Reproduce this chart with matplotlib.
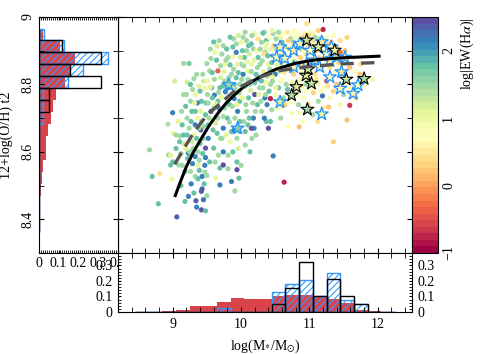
import numpy as np
import matplotlib
matplotlib.use('Agg')
import matplotlib.pyplot as plt
from matplotlib.ticker import MultipleLocator, FormatStrFormatter
from matplotlib.colors import Normalize

plt.rcParams['font.family'] = ['Liberation Serif', 'DejaVu Serif']
plt.rcParams['mathtext.fontset'] = 'stix'
plt.rcParams['font.size'] = 10
plt.rcParams['hatch.linewidth'] = 0.8

# --- scatter sample: [log M*, 12+log(O/H), log EW(Ha)] ---
low_mass = np.array([
    [8.66, 8.606, 1.45], [8.70, 8.527, 1.8], [8.79, 8.446, 1.8], [8.81, 8.535, 0.4],
    [8.94, 8.591, 1.45], [8.97, 8.590, 1.1], [8.99, 8.519, 1.0], [9.06, 8.407, 2.4],
    [9.00, 8.570, 1.8], [8.97, 8.561, 1.8], [9.09, 8.561, 1.45], [9.11, 8.647, 1.45],
    [9.01, 8.655, 1.0], [9.16, 8.624, 1.2], [9.23, 8.596, 2.15], [9.22, 8.580, 1.8],
    [9.18, 8.542, 1.8], [9.18, 8.453, 1.8], [9.23, 8.468, 2.15], [9.31, 8.478, 1.8],
    [9.35, 8.436, 2.2], [9.42, 8.483, 2.4], [9.42, 8.428, 2.45], [9.48, 8.425, 1.8],
    [9.45, 8.458, 2.3], [9.26, 8.542, 1.45], [9.33, 8.527, 1.5], [9.37, 8.520, 1.8],
    [9.43, 8.527, 2.2], [9.43, 8.490, 2.4], [9.00, 8.716, 2.2], [8.93, 8.682, 1.4],
    [9.16, 8.862, 1.5], [9.24, 8.862, 1.65], [9.21, 8.807, 1.15], [9.16, 8.770, 1.45],
    [9.31, 8.817, 1.5], [9.33, 8.770, 1.05], [9.26, 8.750, 1.45], [9.33, 8.720, 1.8],
    [9.42, 8.750, 1.8], [9.47, 8.788, 1.0], [9.48, 8.710, 1.8], [9.42, 8.690, 1.45],
    [9.37, 8.700, 1.0], [9.28, 8.720, 1.8], [9.21, 8.700, 1.45], [9.14, 8.680, 1.8],
    [9.24, 8.670, 1.45], [9.33, 8.680, 2.15], [9.31, 8.650, 1.0], [9.16, 8.650, 1.8],
    [9.37, 8.560, 1.1], [9.39, 8.575, 1.45], [9.29, 8.565, 2.15], [9.33, 8.586, 2.2],
    [9.37, 8.600, 1.45], [9.48, 8.611, 2.45], [9.48, 8.583, 2.2], [9.47, 8.560, 2.15],
    [9.45, 8.640, 1.45], [9.40, 8.625, 1.8], [9.28, 8.630, 1.2], [9.05, 8.610, 1.8],
    [9.12, 8.595, 1.45], [9.08, 8.690, 1.1], [9.19, 8.735, 1.8], [9.29, 8.785, 1.45],
    [9.38, 8.795, 1.1], [9.44, 8.830, 1.45], [9.41, 8.665, 2.4], [9.46, 8.505, 1.8],
    [9.03, 8.810, 1.2], [9.13, 8.720, 1.45], [9.36, 8.745, 2.15],
    [9.05, 8.650, 1.45], [9.10, 8.630, 1.8], [9.14, 8.560, 1.45], [9.19, 8.610, 1.1],
    [9.21, 8.650, 1.8], [9.25, 8.600, 1.45], [9.27, 8.690, 1.8], [9.30, 8.610, 1.45],
    [9.32, 8.745, 1.1], [9.35, 8.640, 1.8], [9.38, 8.670, 1.45], [9.41, 8.720, 1.1],
    [9.44, 8.595, 1.8], [9.46, 8.675, 1.45], [9.49, 8.745, 1.8], [9.20, 8.770, 1.45],
    [9.26, 8.800, 1.8], [9.35, 8.830, 1.45], [9.40, 8.780, 1.8], [9.45, 8.810, 1.2],
    [9.12, 8.500, 1.8], [9.27, 8.505, 2.15], [9.39, 8.545, 1.8], [9.34, 8.455, 2.4],
    [9.47, 8.540, 1.45],
])

mid_mass = np.array([
    [9.50, 8.530, 1.45], [9.50, 8.470, 1.45], [9.63, 8.522, 1.0], [9.69, 8.502, 2.15],
    [9.86, 8.512, 2.15], [9.91, 8.484, 1.45], [9.97, 8.522, 1.8], [10.00, 8.560, 1.45],
    [9.94, 8.547, 2.45], [9.94, 8.570, 1.8], [9.69, 8.552, 1.8], [9.81, 8.550, 1.45],
    [9.74, 8.561, 2.45], [9.54, 8.570, 1.8], [9.62, 8.570, 1.45], [9.60, 8.611, 1.8],
    [9.67, 8.590, 1.45], [9.74, 8.600, 2.15], [9.81, 8.590, 1.45], [9.88, 8.600, 1.8],
    [9.96, 8.610, 1.2], [10.06, 8.620, 1.45], [10.13, 8.600, 1.8], [10.16, 8.640, 1.45],
    [10.19, 8.670, 2.15], [10.06, 8.660, 1.8], [9.94, 8.640, 1.45], [9.84, 8.630, 1.0],
    [9.72, 8.640, 1.45], [9.65, 8.655, 1.8], [9.52, 8.640, 2.15], [9.60, 8.926, 1.8],
    [9.65, 8.913, 1.2], [9.66, 8.840, -0.4], [9.50, 8.862, 1.45], [9.56, 8.877, 1.45],
    [9.54, 8.840, 1.45], [9.51, 8.810, 1.0], [9.57, 8.790, 1.8], [9.51, 8.770, 1.45],
    [9.61, 8.768, 2.15], [9.66, 8.750, 1.8], [9.60, 8.730, 1.45], [9.52, 8.680, 1.8],
    [9.74, 8.670, 2.15], [9.66, 8.700, 1.45], [9.76, 8.730, 1.45], [9.69, 8.790, 1.8],
    [9.76, 8.810, 1.45], [9.81, 8.790, 2.15], [9.88, 8.770, 1.0], [9.86, 8.830, 1.45],
    [9.93, 8.820, 1.8], [9.76, 8.860, 1.0], [9.81, 8.880, 1.45], [9.88, 8.911, 1.8],
    [9.89, 8.935, 1.45], [9.93, 8.895, 2.15], [10.00, 8.925, 1.0], [10.08, 8.930, 1.45],
    [10.08, 8.900, 1.45], [10.15, 8.920, 1.8], [10.20, 8.951, 1.0], [10.25, 8.935, 0.4],
    [10.00, 8.860, 1.45], [10.15, 8.860, 1.0], [10.25, 8.880, 1.8], [10.03, 8.830, 2.15],
    [10.13, 8.800, 1.45], [10.20, 8.770, 2.45], [10.27, 8.790, 1.45], [9.98, 8.750, 1.8],
    [10.08, 8.720, 1.45], [10.18, 8.700, 2.15], [10.15, 8.670, 2.45], [9.91, 8.700, 1.45],
    [9.86, 8.660, 1.8], [9.70, 8.820, 1.2], [9.79, 8.905, 1.8], [9.72, 8.890, 1.45],
    [9.95, 8.860, 1.1], [10.05, 8.880, 1.8], [10.12, 8.890, 1.2], [9.98, 8.800, 1.45],
    [10.10, 8.840, 1.1], [10.22, 8.830, 1.8], [10.18, 8.905, 1.45], [9.83, 8.740, 1.8],
    [9.95, 8.720, 2.15], [10.04, 8.690, 1.45], [10.24, 8.740, 1.8], [9.56, 8.720, 2.45],
    [9.63, 8.685, 1.2], [9.90, 8.800, 1.8], [10.28, 8.860, 1.45], [9.80, 8.700, 1.8],
    [10.11, 8.760, 1.8], [9.58, 8.835, 1.8], [10.02, 8.900, 1.8],
    [9.52, 8.745, 1.45], [9.55, 8.792, 1.1], [9.58, 8.760, 1.8], [9.61, 8.815, 1.45],
    [9.63, 8.742, 1.1], [9.64, 8.872, 1.8], [9.67, 8.776, 1.45], [9.68, 8.728, 2.15],
    [9.70, 8.855, 1.45], [9.71, 8.762, 1.1], [9.73, 8.795, 1.8], [9.74, 8.705, 1.45],
    [9.75, 8.838, 1.1], [9.77, 8.778, 2.15], [9.78, 8.872, 1.45], [9.80, 8.752, 1.2],
    [9.82, 8.820, 1.45], [9.83, 8.688, 1.45], [9.84, 8.858, 1.8], [9.85, 8.795, 1.1],
    [9.87, 8.735, 1.45], [9.88, 8.882, 1.0], [9.89, 8.845, 1.45], [9.90, 8.758, 2.15],
    [9.92, 8.785, 1.45], [9.93, 8.920, 1.45], [9.94, 8.740, 1.1], [9.96, 8.835, 1.8],
    [9.97, 8.775, 1.45], [9.98, 8.690, 1.8], [9.99, 8.880, 1.2], [10.01, 8.815, 1.45],
    [10.02, 8.760, 1.1], [10.03, 8.940, 1.45], [10.04, 8.855, 1.45], [10.06, 8.795, 1.8],
    [10.07, 8.740, 1.45], [10.09, 8.868, 1.0], [10.10, 8.815, 1.45], [10.11, 8.915, 1.8],
    [10.12, 8.700, 1.8], [10.14, 8.782, 1.2], [10.15, 8.838, 1.45], [10.16, 8.945, 1.45],
    [10.17, 8.745, 1.45], [10.19, 8.872, 1.1], [10.20, 8.805, 1.8], [10.21, 8.720, 1.45],
    [10.23, 8.900, 1.0], [10.24, 8.850, 1.45], [10.26, 8.770, 1.1], [10.27, 8.815, 2.15],
    [10.28, 8.905, 1.45], [10.29, 8.750, 1.45], [9.55, 8.905, 1.45], [9.62, 8.895, 1.0],
    [9.68, 8.930, 1.45], [9.74, 8.915, 1.45], [9.84, 8.940, 1.8], [9.96, 8.945, 1.2],
    [10.06, 8.955, 1.45], [9.53, 8.700, 1.45], [9.59, 8.665, 1.8], [9.70, 8.640, 1.45],
    [9.78, 8.650, 1.1], [9.90, 8.665, 2.15], [9.97, 8.660, 1.45], [10.10, 8.680, 1.8],
    [10.22, 8.650, 1.45],
])

high_mass = np.array([
    [10.30, 8.925, 1.45], [10.37, 8.930, 1.8], [10.34, 8.955, 1.45], [10.35, 8.895, 1.45],
    [10.37, 8.690, 1.8], [10.30, 8.720, 1.45], [10.35, 8.760, 2.15], [10.47, 8.951, 1.45],
    [10.38, 8.921, 1.0], [10.33, 8.890, 0.4], [10.46, 8.885, 1.45], [10.58, 8.940, 1.0],
    [10.68, 8.955, 0.5], [10.75, 8.945, 0.8], [10.77, 8.925, 1.45], [10.84, 8.950, 0.8],
    [10.91, 8.940, 0.3], [11.01, 8.955, 0.8], [11.08, 8.940, 1.45], [11.13, 8.960, 0.3],
    [11.25, 8.940, 0.8], [11.32, 8.925, 0.2], [11.40, 8.910, 0.2], [11.28, 8.905, 1.45],
    [11.45, 8.895, -0.3], [11.52, 8.900, 0.2], [11.50, 8.860, 0.9], [11.59, 8.850, 0.2],
    [11.67, 8.840, 0.8], [11.74, 8.830, 0.2], [11.38, 8.840, 0.8], [11.25, 8.810, -0.4],
    [11.13, 8.800, 0.8], [11.40, 8.800, 0.2], [11.50, 8.770, 1.45], [11.59, 8.785, 0.8],
    [10.86, 8.815, 0.8], [10.77, 8.830, 0.3], [10.68, 8.850, 0.8], [10.58, 8.860, 1.45],
    [10.47, 8.840, 0.9], [10.38, 8.825, 1.45], [10.30, 8.810, 1.8], [10.43, 8.800, 1.45],
    [10.58, 8.810, 0.9], [10.68, 8.785, 1.8], [10.50, 8.770, 0.9], [10.36, 8.770, 1.45],
    [10.38, 8.740, 2.15], [10.43, 8.758, -0.8], [10.53, 8.730, 0.9], [10.65, 8.740, 0.3],
    [10.77, 8.755, 0.8], [10.84, 8.740, 1.45], [10.91, 8.760, 0.8], [11.06, 8.775, 0.3],
    [11.13, 8.750, 1.45], [10.86, 8.715, 0.8], [10.74, 8.715, 0.9], [10.34, 8.700, 2.15],
    [10.43, 8.690, 1.8], [10.40, 8.670, 2.45], [10.85, 8.674, 0.2], [10.69, 8.674, 0.8],
    [11.20, 8.730, 0.5], [11.28, 8.733, 0.2], [11.19, 8.766, 2.3], [11.30, 8.760, 0.9],
    [11.55, 8.694, 0.2], [11.59, 8.738, -0.7], [11.92, 8.815, 0.9], [10.96, 8.980, 0.4],
    [11.20, 8.963, -0.8], [10.47, 8.588, 2.2], [10.63, 8.510, -0.8], [11.35, 8.630, 0.3],
    [11.55, 8.939, 0.3], [10.40, 8.860, 1.1], [10.52, 8.905, 1.45], [10.62, 8.890, 1.0],
    [10.70, 8.905, 0.4], [10.80, 8.890, 0.8], [10.88, 8.905, 1.45], [10.95, 8.890, 0.4],
    [11.02, 8.915, 0.8], [11.10, 8.900, 0.3], [11.18, 8.915, 0.8], [11.22, 8.880, 0.4],
    [11.35, 8.880, 0.9], [11.42, 8.865, 0.3], [10.55, 8.875, 0.8], [10.65, 8.870, 1.45],
    [10.75, 8.870, 0.8], [10.90, 8.860, 0.3], [11.00, 8.845, 0.8], [11.08, 8.830, 0.4],
    [11.18, 8.850, 0.9], [11.30, 8.850, 0.4], [10.48, 8.915, 0.3], [10.60, 8.925, 1.8],
    [10.72, 8.935, 1.45], [10.92, 8.925, 0.8], [11.05, 8.930, 0.4], [11.15, 8.935, 1.45],
    [11.35, 8.945, 0.8], [11.45, 8.930, 0.4], [10.95, 8.800, 1.45], [11.02, 8.790, 0.8],
    [11.22, 8.790, 0.8], [11.35, 8.780, 0.3], [10.80, 8.790, 0.4], [10.55, 8.790, 1.8],
    [10.62, 8.760, 1.45], [10.50, 8.830, 2.15], [10.45, 8.865, 1.8], [11.65, 8.880, 0.9],
    [11.75, 8.860, 0.4], [11.80, 8.800, 1.0], [11.68, 8.760, 0.3], [11.45, 8.740, 0.9],
    [11.05, 8.710, 1.45], [10.98, 8.740, 0.3], [10.58, 8.700, 1.45], [10.90, 8.690, 0.8],
    [11.12, 8.690, 0.4],
    [10.31, 8.870, 1.45], [10.33, 8.838, 1.1], [10.36, 8.910, 1.0], [10.39, 8.885, 1.8],
    [10.41, 8.940, 0.8], [10.42, 8.845, 1.45], [10.44, 8.905, 1.1], [10.46, 8.822, 1.0],
    [10.49, 8.880, 0.8], [10.51, 8.935, 1.45], [10.53, 8.858, 1.1], [10.54, 8.910, 0.5],
    [10.56, 8.840, 1.45], [10.59, 8.895, 0.8], [10.61, 8.950, 0.8], [10.63, 8.835, 0.5],
    [10.64, 8.912, 1.45], [10.66, 8.882, 0.8], [10.69, 8.930, 0.3], [10.71, 8.858, 1.0],
    [10.73, 8.895, 0.8], [10.74, 8.840, 1.45], [10.76, 8.915, 0.5], [10.79, 8.870, 1.1],
    [10.81, 8.940, 0.8], [10.83, 8.855, 0.5], [10.85, 8.925, 1.0], [10.87, 8.880, 0.3],
    [10.89, 8.835, 0.8], [10.92, 8.900, 0.8], [10.94, 8.950, 0.5], [10.97, 8.872, 1.0],
    [10.99, 8.915, 0.3], [11.03, 8.875, 0.8], [11.04, 8.950, 1.0], [11.07, 8.900, 0.5],
    [11.09, 8.860, 0.8], [11.12, 8.925, 0.8], [11.14, 8.880, 0.3], [11.17, 8.900, 1.1],
    [11.20, 8.935, 0.5], [11.23, 8.860, 0.8], [11.26, 8.920, 0.3], [11.29, 8.880, 0.8],
    [11.33, 8.905, 0.5], [11.37, 8.870, 0.8], [11.41, 8.885, 0.5], [11.44, 8.850, 0.8],
    [11.48, 8.875, 0.3], [11.56, 8.880, 0.8], [10.32, 8.952, 1.8], [10.45, 8.960, 1.0],
    [10.55, 8.955, 1.45], [10.78, 8.960, 0.8], [10.98, 8.945, 0.3],
    [10.32, 8.790, 1.45], [10.37, 8.805, 1.0], [10.41, 8.780, 1.8], [10.46, 8.810, 1.45],
    [10.51, 8.790, 1.1], [10.56, 8.755, 1.45], [10.60, 8.815, 0.8], [10.66, 8.800, 1.45],
    [10.71, 8.770, 0.8], [10.75, 8.805, 1.0], [10.82, 8.770, 0.8], [10.88, 8.795, 0.5],
    [10.93, 8.780, 0.8], [10.99, 8.815, 1.0], [11.10, 8.815, 0.5], [11.16, 8.780, 0.8],
    [11.27, 8.795, 0.5], [10.45, 8.725, 1.45], [10.60, 8.735, 1.1], [10.70, 8.745, 0.8],
])

# blue-edged stars
blue_m = [9.82, 9.95, 10.52, 10.57, 10.64, 10.77, 10.86, 11.01, 11.08, 11.18, 11.25, 11.32,
          11.40, 10.96, 11.15, 11.30, 11.47, 11.45, 11.64, 11.71, 10.57, 11.18, 10.77, 11.30, 11.52]
blue_oh = [8.799, 8.670, 8.881, 8.911, 8.877, 8.901, 8.921, 8.901, 8.872, 8.926, 8.891, 8.911,
           8.881, 8.862, 8.852, 8.822, 8.837, 8.788, 8.773, 8.798, 8.748, 8.712, 8.852, 8.870, 8.880]
blue_ew = [1.5, 1.6, 0.8, 0.6, 0.8, 0.5, 0.6, 0.8, 0.9, 0.5, 0.7, 0.6,
           0.8, 0.7, 0.6, 0.8, 0.5, 0.7, 0.6, 0.8, 1.2, 1.0, 0.7, 0.6, 0.5]

# black-edged stars
black_m = [10.96, 11.13, 11.37, 10.95, 11.03, 10.81, 10.74, 10.97, 11.54, 11.80, 10.98]
black_oh = [8.931, 8.911, 8.901, 8.827, 8.803, 8.793, 8.768, 8.726, 8.815, 8.817, 8.845]
black_ew = [1.3, 1.2, 1.0, 1.1, 1.3, 1.2, 1.4, 1.5, 1.3, 1.4, 1.2]

# fit curves
curve_m = [9.03, 9.12, 9.20, 9.30, 9.42, 9.54, 9.66, 9.78, 9.92, 10.05, 10.28, 10.51, 10.80, 11.09, 11.48, 12.04]
curve_oh = [8.466, 8.515, 8.556, 8.598, 8.640, 8.680, 8.714, 8.744, 8.772, 8.795, 8.823, 8.845, 8.863, 8.873, 8.879, 8.884]
dash_m = [9.03, 9.15, 9.31, 9.50, 9.77, 9.94, 10.22, 10.56, 11.00, 11.48, 12.02]
dash_oh = [8.563, 8.605, 8.658, 8.709, 8.757, 8.787, 8.818, 8.841, 8.853, 8.861, 8.865]

# mass histograms (bin centres, 0.2 dex)
mass_bins = [8.55, 8.75, 8.95, 9.15, 9.35, 9.55, 9.75, 9.95, 10.15, 10.35, 10.55,
             10.75, 10.95, 11.15, 11.35, 11.55, 11.75, 11.95, 12.15]
mass_all = [0.002, 0.003, 0.007, 0.015, 0.038, 0.038, 0.067, 0.09, 0.087, 0.082, 0.10,
            0.11, 0.11, 0.105, 0.085, 0.055, 0.015, 0.007, 0.003]
mass_blue = [0, 0, 0, 0, 0, 0, 0.027, 0, 0, 0, 0.127, 0.178, 0.204, 0.105, 0.25, 0.075, 0.05, 0, 0]
mass_black = [0, 0, 0, 0, 0, 0, 0, 0, 0, 0, 0.05, 0.155, 0.32, 0.105, 0.21, 0.105, 0.05, 0, 0]

# metallicity histograms (bin centres)
oh_bins = [8.948, 8.913, 8.878, 8.842, 8.807, 8.771, 8.736, 8.700, 8.665, 8.629, 8.594,
           8.558, 8.523, 8.487, 8.452, 8.416, 8.381]
oh_all = [0.02, 0.107, 0.183, 0.158, 0.133, 0.087, 0.07, 0.06, 0.045, 0.037, 0.037,
          0.022, 0.016, 0.01, 0.006, 0.003, 0.001]
oh_blue = [0.028, 0.13, 0.35, 0.223, 0.148, 0.02, 0.02, 0.02, 0, 0, 0, 0, 0, 0, 0, 0, 0]
oh_black = [0, 0.12, 0.315, 0.158, 0.315, 0.053, 0.053, 0, 0, 0, 0, 0, 0, 0, 0, 0, 0]

red = '#d9444b'
blue = '#3399ff'

fig = plt.figure(figsize=(4.8, 3.54), dpi=100)
ax = fig.add_axes([0.2458, 0.2853, 0.6125, 0.6667])
cax = fig.add_axes([0.8583, 0.2853, 0.0542, 0.6667])
axl = fig.add_axes([0.0806, 0.2853, 0.1652, 0.6667])
axb = fig.add_axes([0.2458, 0.1186, 0.6125, 0.1667])

cmap = plt.get_cmap('Spectral', 36)
norm = Normalize(-1, 2.5)

pts = np.vstack([low_mass, mid_mass, high_mass])
sc = ax.scatter(pts[:, 0], pts[:, 1], c=pts[:, 2], cmap=cmap, norm=norm, s=14, lw=0, zorder=2)
ax.scatter(blue_m, blue_oh, c=blue_ew, cmap=cmap, norm=norm, marker='*', s=95,
           edgecolors='#1e8fff', linewidths=0.9, zorder=3)
ax.scatter(black_m, black_oh, c=black_ew, cmap=cmap, norm=norm, marker='*', s=95,
           edgecolors='k', linewidths=0.8, zorder=3)
ax.plot(curve_m, curve_oh, color='k', lw=2.2, zorder=4, solid_capstyle='butt')
ax.plot(dash_m, dash_oh, color='#555555', lw=2.4, ls=(0, (4, 2.2)), zorder=4)

ax.set_xlim(8.2, 12.5)
ax.set_ylim(8.3, 9.0)
ax.xaxis.set_major_locator(MultipleLocator(1))
ax.xaxis.set_minor_locator(MultipleLocator(0.2))
ax.yaxis.set_major_locator(MultipleLocator(0.2))
ax.yaxis.set_minor_locator(MultipleLocator(0.1))
ax.tick_params(which='both', direction='in', top=True, right=True, length=3.5,
               labelbottom=False, labelleft=False)

# colorbar
cb = fig.colorbar(sc, cax=cax, ticks=[-1, 0, 1, 2])
cb.outline.set_linewidth(0.8)
cax.tick_params(direction='in', length=0, pad=3)
for t in cax.get_yticklabels():
    t.set_rotation(90)
    t.set_va('center')
    t.set_ha('left')
cax.text(2.12, 0.845, r'log|EW(H$\alpha$)|', rotation=90, transform=cax.transAxes,
         ha='center', va='center', fontsize=10)

# left histogram
hw = 0.0355
axl.barh(oh_bins, oh_all, height=hw, color=red, lw=0)
axl.barh(oh_bins, oh_blue, height=hw, fill=False, edgecolor=blue, hatch='/////', lw=1)
axl.barh(oh_bins, oh_black, height=hw, fill=False, edgecolor='k', lw=1)
axl.set_ylim(8.3, 9.0)
axl.set_xlim(0, 0.4)
axl.yaxis.set_major_locator(MultipleLocator(0.2))
axl.yaxis.set_minor_locator(MultipleLocator(0.1))
axl.yaxis.set_major_formatter(FormatStrFormatter('%g'))
axl.xaxis.set_major_locator(MultipleLocator(0.1))
axl.xaxis.set_minor_locator(MultipleLocator(0.01))
axl.xaxis.set_major_formatter(FormatStrFormatter('%g'))
axl.tick_params(which='both', direction='in', top=True, right=True, length=3.5, pad=3)
axl.tick_params(axis='x', which='both', length=2)
for t in axl.get_yticklabels():
    t.set_rotation(90)
    t.set_va('center')
axl.set_ylabel('12+log(O/H) t2', labelpad=6)

# bottom histogram
bw = 0.2
axb.bar(mass_bins, mass_all, width=bw, color=red, lw=0)
axb.bar(mass_bins, mass_blue, width=bw, fill=False, edgecolor=blue, hatch='/////', lw=1)
axb.bar(mass_bins, mass_black, width=bw, fill=False, edgecolor='k', lw=1)
axb.set_xlim(8.2, 12.5)
axb.set_ylim(0, 0.38)
axb.xaxis.set_major_locator(MultipleLocator(1))
axb.xaxis.set_minor_locator(MultipleLocator(0.2))
axb.yaxis.set_major_locator(MultipleLocator(0.1))
axb.yaxis.set_minor_locator(MultipleLocator(0.02))
axb.yaxis.set_major_formatter(FormatStrFormatter('%g'))
axb.tick_params(which='both', direction='in', top=True, right=True, length=3.5,
                labelright=True, pad=4)
axb.tick_params(axis='y', which='both', length=2)
axb.set_xlabel(r'log(M$_{*}$/M$_{\odot}$)', labelpad=5)

fig.savefig('out.png', dpi=100)
